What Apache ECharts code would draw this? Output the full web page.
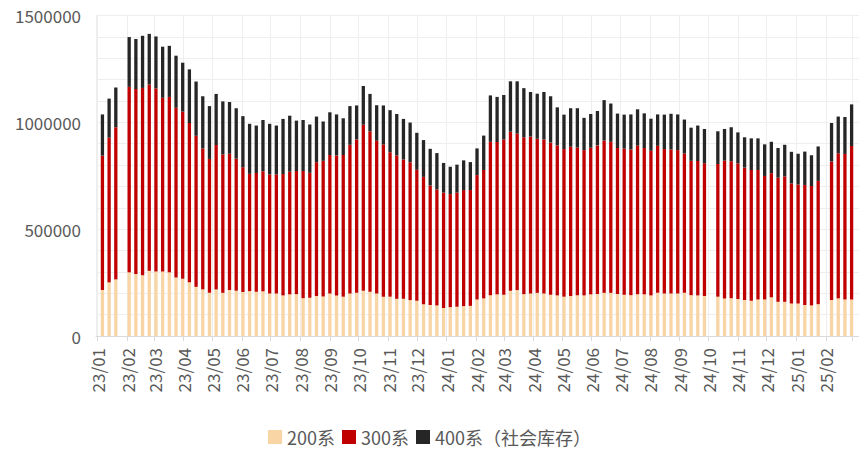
<!DOCTYPE html>
<html>
<head>
<meta charset="utf-8">
<script src="https://cdn.jsdelivr.net/npm/echarts@6/dist/echarts.min.js"></script>
<style>html,body{margin:0;padding:0;background:#fff}#chart{width:859px;height:451px}</style>
</head>
<body>
<div id="chart"></div>
<script>
// weekly dates (holiday weeks have no data)
const weeks = [
  '2023-01-06','2023-01-13','2023-01-20',
  '2023-02-03','2023-02-10','2023-02-17','2023-02-24',
  '2023-03-03','2023-03-10','2023-03-17','2023-03-24','2023-03-31',
  '2023-04-07','2023-04-14','2023-04-21','2023-04-28',
  '2023-05-05','2023-05-12','2023-05-19','2023-05-26',
  '2023-06-02','2023-06-09','2023-06-16','2023-06-23','2023-06-30',
  '2023-07-07','2023-07-14','2023-07-21','2023-07-28',
  '2023-08-04','2023-08-11','2023-08-18','2023-08-25',
  '2023-09-01','2023-09-08','2023-09-15','2023-09-22','2023-09-29',
  '2023-10-06','2023-10-13','2023-10-20','2023-10-27',
  '2023-11-03','2023-11-10','2023-11-17','2023-11-24',
  '2023-12-01','2023-12-08','2023-12-15','2023-12-22','2023-12-29',
  '2024-01-05','2024-01-12','2024-01-19','2024-01-26',
  '2024-02-02','2024-02-09','2024-02-16','2024-02-23',
  '2024-03-01','2024-03-08','2024-03-15','2024-03-22','2024-03-29',
  '2024-04-05','2024-04-12','2024-04-19','2024-04-26',
  '2024-05-03','2024-05-10','2024-05-17','2024-05-24','2024-05-31',
  '2024-06-07','2024-06-14','2024-06-21','2024-06-28',
  '2024-07-05','2024-07-12','2024-07-19','2024-07-26',
  '2024-08-02','2024-08-09','2024-08-16','2024-08-23','2024-08-30',
  '2024-09-06','2024-09-13','2024-09-20','2024-09-27',
  '2024-10-11','2024-10-18','2024-10-25',
  '2024-11-01','2024-11-08','2024-11-15','2024-11-22','2024-11-29',
  '2024-12-06','2024-12-13','2024-12-20','2024-12-27',
  '2025-01-03','2025-01-10','2025-01-17','2025-01-24',
  '2025-02-07','2025-02-14','2025-02-21','2025-02-28'
];

const s200 = [
  215000,251000,265000,298000,290000,284000,305000,302000,302000,298000,
  274000,268000,252000,230000,218000,202000,218000,202000,215000,212000,
  206000,210000,207000,209000,199000,199000,190000,195000,196000,177000,
  179000,187000,185000,199000,190000,184000,199000,202000,212000,207000,
  199000,184000,184000,174000,174000,168000,165000,149000,145000,143000,
  131000,135000,137000,140000,141000,171000,176000,191000,195000,193000,
  212000,215000,196000,199000,202000,199000,193000,190000,184000,187000,
  191000,190000,195000,196000,202000,202000,196000,193000,191000,195000,
  195000,190000,202000,199000,199000,199000,202000,191000,190000,187000,
  184000,176000,177000,173000,168000,165000,171000,171000,181000,160000,
  160000,152000,152000,145000,143000,149000,168000,176000,171000,171000
];

const s300 = [
  629000,677000,712000,868000,866000,877000,872000,857000,813000,821000,
  794000,782000,745000,707000,660000,627000,676000,648000,638000,618000,
  584000,549000,556000,562000,557000,557000,568000,574000,576000,595000,
  585000,626000,635000,648000,655000,663000,696000,718000,777000,751000,
  715000,712000,676000,671000,652000,645000,613000,596000,559000,543000,
  540000,529000,534000,543000,542000,582000,601000,718000,713000,727000,
  744000,732000,734000,734000,721000,721000,712000,702000,691000,699000,
  691000,680000,686000,696000,713000,707000,684000,684000,682000,696000,
  685000,677000,688000,676000,674000,671000,652000,629000,629000,621000,
  621000,645000,641000,635000,620000,612000,606000,578000,581000,581000,
  587000,562000,557000,562000,559000,577000,648000,679000,681000,718000
];

const s400 = [
  193000,183000,186000,233000,234000,244000,237000,243000,239000,239000,
  244000,229000,251000,254000,244000,247000,239000,248000,242000,236000,
  239000,234000,222000,240000,237000,229000,258000,262000,236000,239000,
  226000,214000,184000,200000,192000,172000,181000,159000,181000,175000,
  166000,183000,197000,194000,190000,186000,173000,172000,172000,170000,
  139000,128000,131000,139000,131000,125000,161000,217000,211000,208000,
  236000,245000,230000,209000,211000,222000,217000,178000,161000,180000,
  184000,151000,158000,161000,189000,179000,161000,159000,164000,170000,
  162000,150000,147000,161000,167000,167000,159000,155000,166000,161000,
  153000,148000,159000,145000,142000,148000,148000,148000,147000,139000,
  148000,148000,144000,156000,144000,161000,181000,172000,173000,195000
];

const seriesNames = ['200系', '300系', '400系（社会库存）'];
const seriesColors = ['#F9D4A4', '#C00000', '#262626'];

const FONT = '"Noto Sans CJK SC", "Noto Sans", sans-serif';
const DAY = 24 * 3600 * 1000;
// the last month tick sits on the cropped edge, its label is not shown
const lastLabel = '2025-02-01';

const chart = echarts.init(document.getElementById('chart'), null, { renderer: 'svg' });
const pairs = vals => weeks.map((d, i) => [d, vals[i]]);
const two = n => String(n).padStart(2, '0');

chart.setOption({
  animation: false,
  textStyle: { fontFamily: FONT },
  grid: { left: 96, right: 0, top: 15.5, bottom: 115, outerBoundsMode: 'none' },
  legend: {
    left: 'center',
    top: 428,
    padding: 0,
    icon: 'rect',
    itemWidth: 14,
    itemHeight: 14,
    itemGap: 7,
    textStyle: { color: '#595959', fontSize: 18, fontFamily: FONT },
    data: seriesNames
  },
  xAxis: {
    type: 'time',
    min: '2023-01-01',
    max: '2025-03-06',
    splitNumber: 26,
    minInterval: 28 * DAY,
    maxInterval: 31 * DAY,
    axisLine: { lineStyle: { color: '#D9D9D9', width: 1 } },
    axisTick: { show: true, length: 5, lineStyle: { color: '#D9D9D9' } },
    splitLine: { show: true, lineStyle: { color: '#EEEEEE', width: 1 } },
    axisLabel: {
      rotate: 90,
      margin: 12,
      color: '#595959',
      fontSize: 17,
      fontFamily: FONT,
      showMaxLabel: false,
      formatter: v => {
        const d = new Date(v);
        if (d > new Date(lastLabel + 'T23:59:59')) return '';
        return two(d.getFullYear() % 100) + '/' + two(d.getMonth() + 1);
      }
    }
  },
  yAxis: {
    type: 'value',
    min: 0,
    max: 1500000,
    interval: 100000,
    axisLine: { show: false },
    axisTick: { show: false },
    splitLine: { lineStyle: { color: '#EEEEEE', width: 1 } },
    axisLabel: {
      margin: 15,
      color: '#595959',
      fontSize: 17,
      fontFamily: FONT,
      formatter: v => (v % 500000 === 0 ? String(v) : '')
    }
  },
  series: [s200, s300, s400].map((vals, i) => ({
    name: seriesNames[i],
    type: 'bar',
    stack: 'stock',
    barWidth: 3.3,
    itemStyle: { color: seriesColors[i] },
    data: pairs(vals)
  }))
});
</script>
</body>
</html>
